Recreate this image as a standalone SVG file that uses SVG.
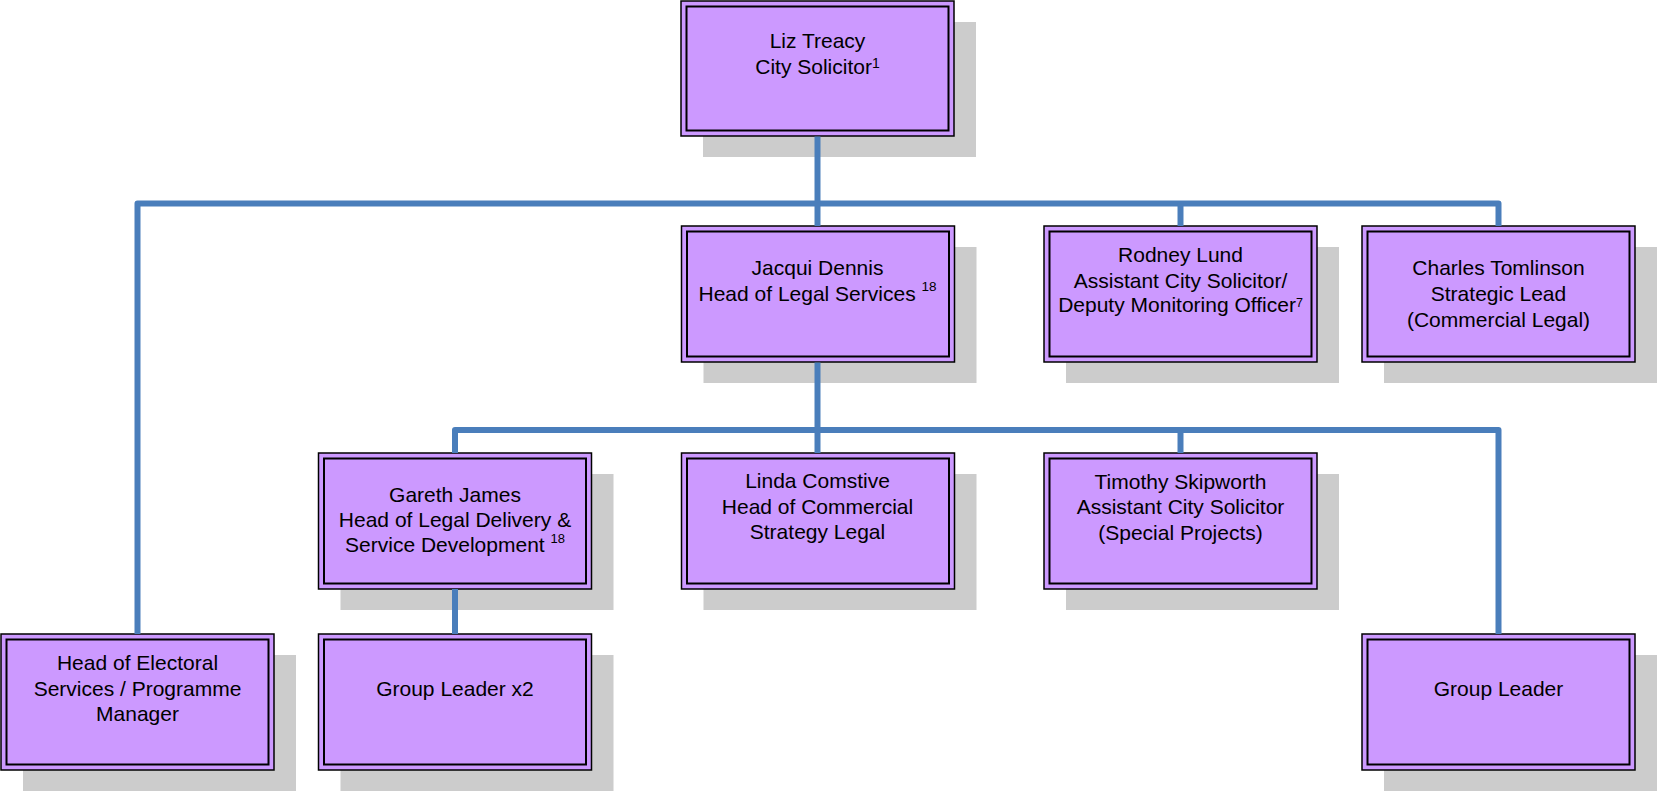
<svg xmlns="http://www.w3.org/2000/svg" width="1657" height="794" viewBox="0 0 1657 794">
<style>
.sh{fill:#cccccc}
.bx{fill:#cc99ff;stroke:#000;stroke-width:1.5}
.in{fill:none;stroke:#000;stroke-width:2}
.t{font-family:"Liberation Sans",Arial,sans-serif;font-size:21px;fill:#000;text-anchor:middle}
.c{fill:none;stroke:#4a7ebb;stroke-width:6;stroke-linejoin:round;stroke-linecap:butt}
</style>
<rect width="1657" height="794" fill="#fff"/>
<g id="liz-treacy">
<rect class="sh" x="703" y="22" width="273" height="135"/>
<rect class="bx" x="681" y="1" width="273" height="135"/>
<rect class="in" x="686.5" y="6.5" width="262" height="124"/>
<text class="t"><tspan x="817.5" y="48">Liz Treacy</tspan><tspan x="817.5" y="74">City Solicitor<tspan dy="-6" font-size="14">1</tspan></tspan></text>
</g>
<g id="jacqui-dennis">
<rect class="sh" x="703.5" y="247" width="273" height="136"/>
<rect class="bx" x="681.5" y="226" width="273" height="136"/>
<rect class="in" x="687" y="231.5" width="262" height="125"/>
<text class="t"><tspan x="817.5" y="275">Jacqui Dennis</tspan><tspan x="817.5" y="301">Head of Legal Services <tspan dy="-10" font-size="13.5">18</tspan></tspan></text>
</g>
<g id="rodney-lund">
<rect class="sh" x="1066" y="247" width="273" height="136"/>
<rect class="bx" x="1044" y="226" width="273" height="136"/>
<rect class="in" x="1049.5" y="231.5" width="262" height="125"/>
<text class="t"><tspan x="1180.5" y="262">Rodney Lund</tspan><tspan x="1180.5" y="288">Assistant City Solicitor/</tspan><tspan x="1180.5" y="312">Deputy Monitoring Officer<tspan dy="-5" font-size="12.5">7</tspan></tspan></text>
</g>
<g id="charles-tomlinson">
<rect class="sh" x="1384" y="247" width="273" height="136"/>
<rect class="bx" x="1362" y="226" width="273" height="136"/>
<rect class="in" x="1367.5" y="231.5" width="262" height="125"/>
<text class="t"><tspan x="1498.5" y="275">Charles Tomlinson</tspan><tspan x="1498.5" y="301">Strategic Lead</tspan><tspan x="1498.5" y="327">(Commercial Legal)</tspan></text>
</g>
<g id="gareth-james">
<rect class="sh" x="340.5" y="474" width="273" height="136"/>
<rect class="bx" x="318.5" y="453" width="273" height="136"/>
<rect class="in" x="324" y="458.5" width="262" height="125"/>
<text class="t"><tspan x="455" y="502">Gareth James</tspan><tspan x="455" y="527">Head of Legal Delivery &amp;</tspan><tspan x="455" y="552">Service Development <tspan dy="-9" font-size="13">18</tspan></tspan></text>
</g>
<g id="linda-comstive">
<rect class="sh" x="703.5" y="474" width="273" height="136"/>
<rect class="bx" x="681.5" y="453" width="273" height="136"/>
<rect class="in" x="687" y="458.5" width="262" height="125"/>
<text class="t"><tspan x="817.5" y="488">Linda Comstive</tspan><tspan x="817.5" y="514">Head of Commercial</tspan><tspan x="817.5" y="539">Strategy Legal</tspan></text>
</g>
<g id="timothy-skipworth">
<rect class="sh" x="1066" y="474" width="273" height="136"/>
<rect class="bx" x="1044" y="453" width="273" height="136"/>
<rect class="in" x="1049.5" y="458.5" width="262" height="125"/>
<text class="t"><tspan x="1180.5" y="489">Timothy Skipworth</tspan><tspan x="1180.5" y="514">Assistant City Solicitor</tspan><tspan x="1180.5" y="540">(Special Projects)</tspan></text>
</g>
<g id="head-electoral">
<rect class="sh" x="23" y="655" width="273" height="136"/>
<rect class="bx" x="1" y="634" width="273" height="136"/>
<rect class="in" x="6.5" y="639.5" width="262" height="125"/>
<text class="t"><tspan x="137.5" y="670">Head of Electoral</tspan><tspan x="137.5" y="696">Services / Programme</tspan><tspan x="137.5" y="721">Manager</tspan></text>
</g>
<g id="group-leader-x2">
<rect class="sh" x="340.5" y="655" width="273" height="136"/>
<rect class="bx" x="318.5" y="634" width="273" height="136"/>
<rect class="in" x="324" y="639.5" width="262" height="125"/>
<text class="t"><tspan x="455" y="696">Group Leader x2</tspan></text>
</g>
<g id="group-leader">
<rect class="sh" x="1384" y="655" width="273" height="136"/>
<rect class="bx" x="1362" y="634" width="273" height="136"/>
<rect class="in" x="1367.5" y="639.5" width="262" height="125"/>
<text class="t"><tspan x="1498.5" y="696">Group Leader</tspan></text>
</g>
<g id="connectors">
<path class="c" d="M817.5 136.5 V226"/>
<path class="c" d="M137.5 634 V203.5 H1498.5 V226"/>
<path class="c" d="M1180.5 203.5 V226"/>
<path class="c" d="M817.5 362.5 V453"/>
<path class="c" d="M455 453 V430 H1498.5 V634"/>
<path class="c" d="M1180.5 430 V453"/>
<path class="c" d="M455 589 V634"/>
</g>
</svg>
